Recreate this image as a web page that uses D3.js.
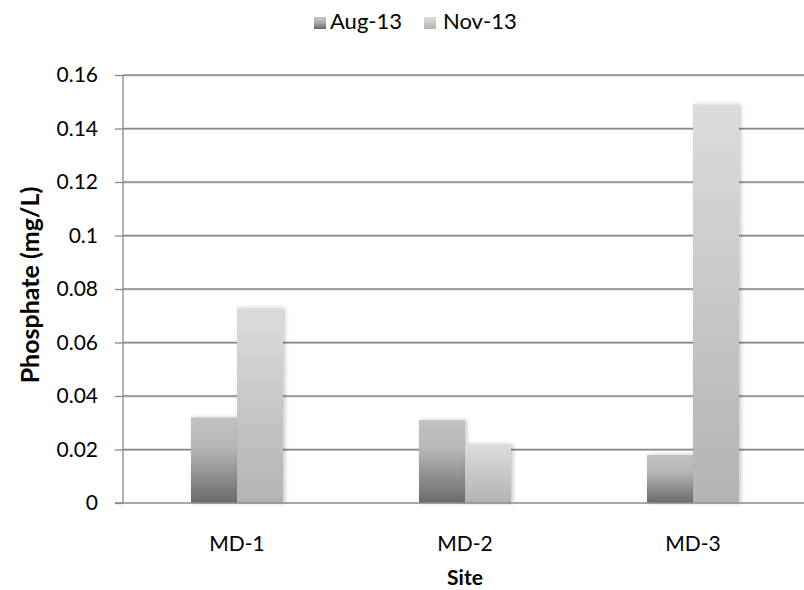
<!DOCTYPE html>
<html>
<head>
<meta charset="utf-8">
<script src="https://cdn.jsdelivr.net/npm/d3@7"></script>
<style>
  html, body { margin: 0; padding: 0; background: #fff; }
  svg text { font-family: Lato, "Open Sans", sans-serif; fill: #000; }
</style>
</head>
<body>
<svg id="chart" width="804" height="590"></svg>
<script>
// Phosphate concentrations by site and sampling month
const sites = ["MD-1", "MD-2", "MD-3"];
const seriesNames = ["Aug-13", "Nov-13"];
const aug13 = [0.032, 0.031, 0.018];
const nov13 = [0.073, 0.022, 0.149];
const yTicks = [0, 0.02, 0.04, 0.06, 0.08, 0.1, 0.12, 0.14, 0.16];
const yTickLabels = ["0", "0.02", "0.04", "0.06", "0.08", "0.1", "0.12", "0.14", "0.16"];

const svg = d3.select("#chart");
const plotLeft = 123, plotRight = 807, plotTop = 75, plotBottom = 503;

const x = d3.scaleBand().domain(sites).range([plotLeft, plotRight]);
const barW = 46;
const inner = d3.scaleBand().domain(seriesNames).range([-barW, barW]);
const y = d3.scaleLinear().domain([0, 0.16]).range([plotBottom, plotTop]);

const defs = svg.append("defs");
const gradAug = defs.append("linearGradient").attr("id", "g-aug")
  .attr("x1", 0).attr("y1", 0).attr("x2", 0).attr("y2", 1);
gradAug.append("stop").attr("offset", "0%").attr("stop-color", "#c2c2c2");
gradAug.append("stop").attr("offset", "35%").attr("stop-color", "#b6b6b6");
gradAug.append("stop").attr("offset", "100%").attr("stop-color", "#6a6a6a");
const gradNov = defs.append("linearGradient").attr("id", "g-nov")
  .attr("x1", 0).attr("y1", 0).attr("x2", 0).attr("y2", 1);
gradNov.append("stop").attr("offset", "0%").attr("stop-color", "#dcdcdc");
gradNov.append("stop").attr("offset", "100%").attr("stop-color", "#b3b3b3");
const shadow = defs.append("filter").attr("id", "shadow")
  .attr("x", "-20%").attr("y", "-5%").attr("width", "140%").attr("height", "110%");
shadow.append("feDropShadow").attr("dx", 2).attr("dy", 0)
  .attr("stdDeviation", 2).attr("flood-color", "#000").attr("flood-opacity", 0.22);

const fills = { "Aug-13": "url(#g-aug)", "Nov-13": "url(#g-nov)" };

// horizontal gridlines
const grid = svg.append("g");
yTicks.slice(1).forEach(t => {
  grid.append("line").attr("x1", plotLeft).attr("x2", 804)
    .attr("y1", y(t) + 1).attr("y2", y(t) + 1)
    .attr("stroke", "#cfcfcf").attr("stroke-width", 1);
  grid.append("line").attr("x1", plotLeft).attr("x2", 804)
    .attr("y1", y(t)).attr("y2", y(t))
    .attr("stroke", "#868686").attr("stroke-width", 1.3);
});

// bars
const rows = sites.map((s, i) => ({ site: s, values: [
  { name: "Aug-13", v: aug13[i] }, { name: "Nov-13", v: nov13[i] }
]}));
const groups = svg.append("g").selectAll("g").data(rows).join("g")
  .attr("transform", d => `translate(${x(d.site) + x.bandwidth() / 2},0)`);
groups.selectAll("rect").data(d => d.values).join("rect")
  .attr("x", d => inner(d.name))
  .attr("width", inner.bandwidth())
  .attr("y", d => y(d.v))
  .attr("height", d => plotBottom - y(d.v))
  .attr("fill", d => fills[d.name])
  .attr("filter", "url(#shadow)");

// y axis
const yAxis = d3.axisLeft(y).tickValues(yTicks)
  .tickFormat((d, i) => yTickLabels[i]).tickSize(8).tickPadding(17);
const gy = svg.append("g").attr("transform", `translate(${plotLeft},0)`).call(yAxis);
gy.select(".domain").attr("stroke", "#888").attr("stroke-width", 1.3).attr("d", `M0,${plotTop}V${plotBottom}`);
gy.selectAll(".tick line").attr("stroke", "#888").attr("stroke-width", 1.3);
gy.selectAll(".tick text").attr("font-size", 21).attr("font-family", "Lato, sans-serif").attr("fill", "#000");

// x axis
const xAxis = d3.axisBottom(x).tickSize(0).tickPadding(33);
const gx = svg.append("g").attr("transform", `translate(0,${plotBottom})`).call(xAxis);
gx.select(".domain").attr("stroke", "#888").attr("stroke-width", 1.3).attr("d", `M${plotLeft - 8},0H804`);
gx.selectAll(".tick text").attr("font-size", 21).attr("font-family", "Lato, sans-serif").attr("fill", "#000");

// axis titles
svg.append("text").attr("x", 465).attr("y", 585).attr("text-anchor", "middle")
  .attr("font-size", 21).attr("font-weight", "bold").text("Site");
svg.append("text").attr("transform", `translate(39,285) rotate(-90)`)
  .attr("text-anchor", "middle").attr("font-size", 25).attr("font-weight", "bold")
  .text("Phosphate (mg/L)");

// legend
const legendPos = [{ name: "Aug-13", sx: 314, tx: 330 }, { name: "Nov-13", sx: 424, tx: 443 }];
const lg = svg.append("g");
legendPos.forEach(p => {
  lg.append("rect").attr("x", p.sx).attr("y", 17).attr("width", 12).attr("height", 12)
    .attr("fill", fills[p.name]);
  lg.append("text").attr("x", p.tx).attr("y", 29).attr("font-size", 22).text(p.name);
});
</script>
</body>
</html>
